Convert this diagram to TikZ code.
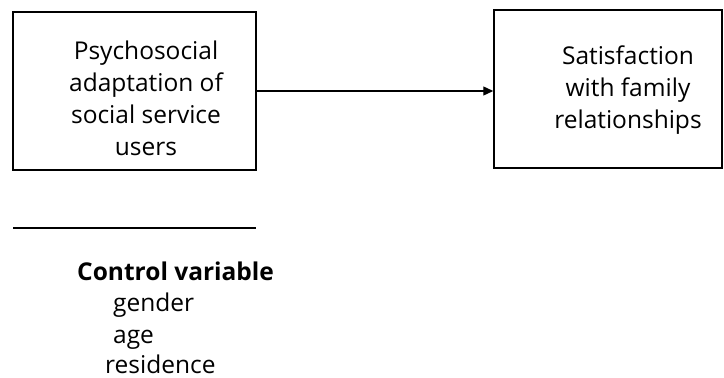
\documentclass[tikz,border=0pt]{standalone}
\usepackage{fontspec}
\setmainfont{Open Sans}
\usetikzlibrary{arrows.meta}
\begin{document}
\begin{tikzpicture}[x=1pt,y=-1pt,
  box/.style={draw,line width=1.5pt,inner sep=0pt},
  boxtext/.style={align=center,font=\fontsize{24.5}{32}\selectfont,inner sep=0pt},
  ctrl/.style={anchor=base west,font=\fontsize{24.5}{31}\selectfont,inner sep=0pt}]
\useasboundingbox (0,0) rectangle (724,378);
\node[box,minimum width=243pt,minimum height=158pt] (L) at (134.5,91) {};
\node[box,minimum width=228pt,minimum height=158pt] (R) at (608,89) {};
\node[boxtext] (Lt) at (146,98) {Psychosocial\\adaptation of\\social service\\users};
\node[boxtext] (Rt) at (628,90) {Satisfaction\\with family\\relationships};
\draw[line width=1.3pt,-{Triangle[length=10pt,width=9pt]}] (L.east |- 0,91) coordinate (a) -- (R.west |- a);
\coordinate (l1) at (13,228);
\coordinate (l2) at (256,228);
\draw[line width=2pt] (l1) -- (l2);
\node[ctrl,font=\fontsize{24.5}{31}\selectfont\bfseries] (cv) at (77,280) {Control variable};
\node[ctrl] (g) at (113,311) {gender};
\node[ctrl] (ag) at (113,343) {age};
\node[ctrl] (res) at (105,373) {residence};
\end{tikzpicture}
\end{document}
